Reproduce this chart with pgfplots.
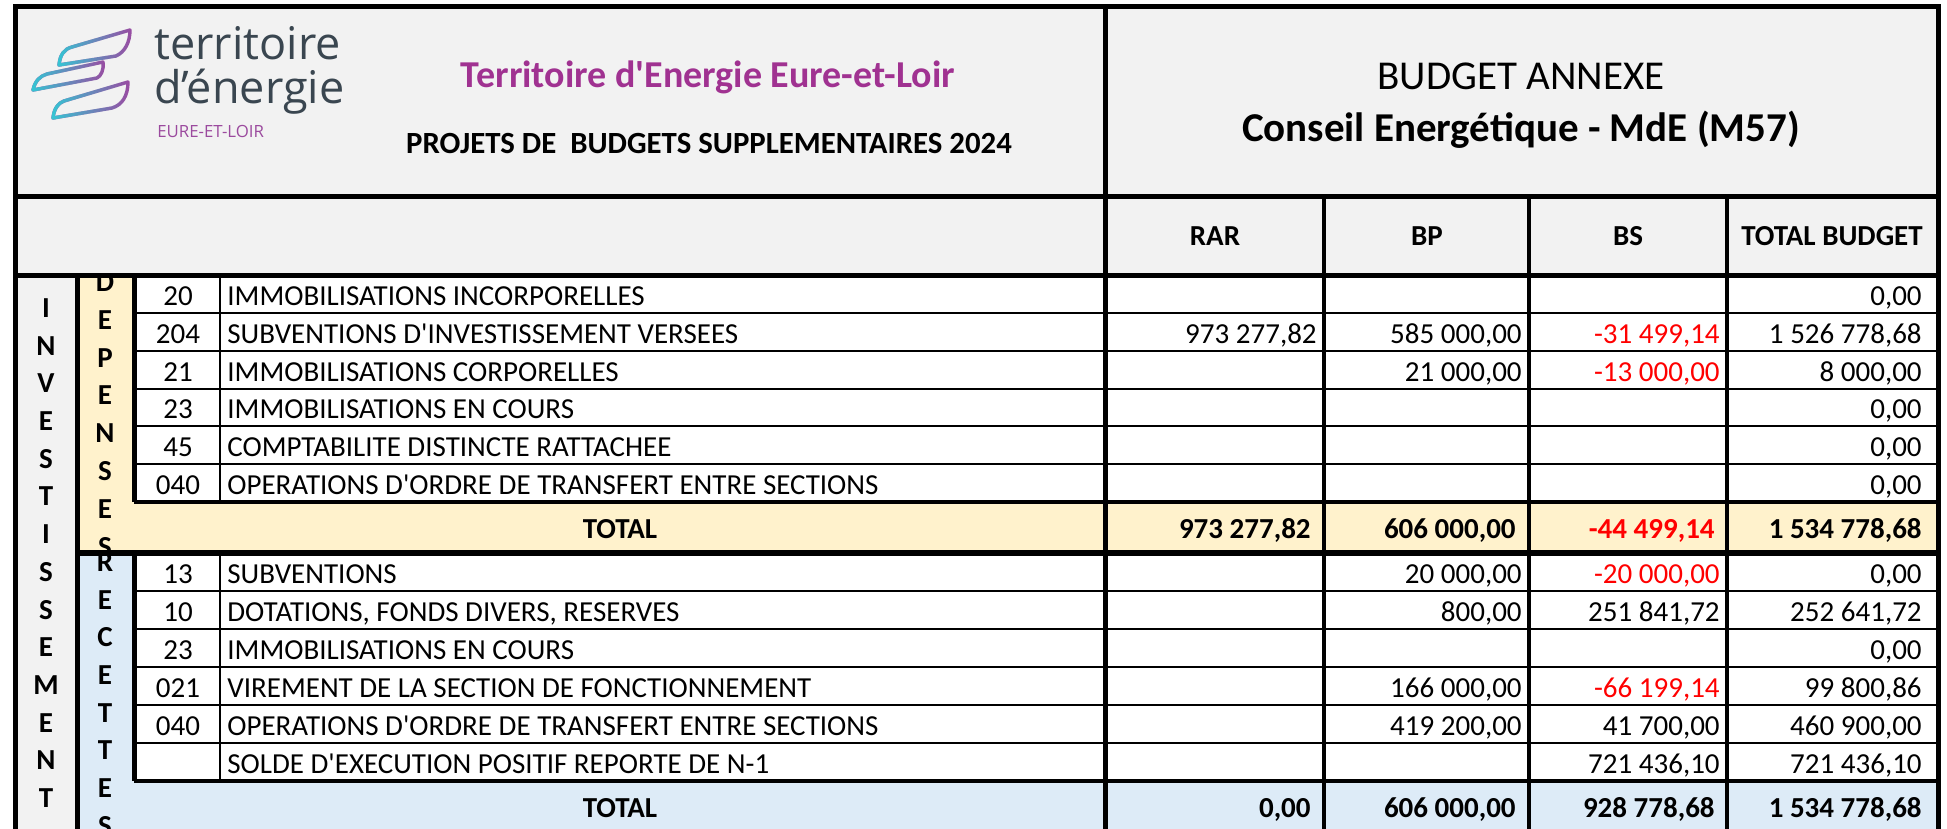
\documentclass[border=0pt]{standalone}
\usepackage{pgfplots}
\pgfplotsset{compat=1.18}
\usetikzlibrary{fadings}
\usepackage{fontspec}
\setmainfont{Carlito}
\newfontfamily\logofont{Open Sans}
\definecolor{hdrgray}{HTML}{F2F2F2}
\definecolor{depyel}{HTML}{FFF2CC}
\definecolor{recblue}{HTML}{DDEBF7}
\definecolor{titlepurple}{RGB}{160,50,145}
\definecolor{logodark}{HTML}{3A4650}
\definecolor{logopurple}{HTML}{9B4A9E}
\definecolor{leafcyan}{HTML}{35C6D4}
\definecolor{leafpurple}{HTML}{9A4CA2}
\definecolor{negred}{HTML}{FF0000}
\newcommand\q{\textquotesingle}
\newcommand\tf{\fontsize{14.5}{17}\selectfont}
\newcommand\nr[3]{\node[anchor=base east,inner sep=0pt,font=\tf] at (#1,#2) {#3};}
\newcommand\nrr[3]{\node[anchor=base east,inner sep=0pt,font=\tf,text=negred] at (#1,#2) {#3};}
\newcommand\nb[3]{\node[anchor=base east,inner sep=0pt,font=\tf\bfseries] at (#1,#2) {#3};}
\newcommand\nbr[3]{\node[anchor=base east,inner sep=0pt,font=\tf\bfseries,text=negred] at (#1,#2) {#3};}
\newcommand\lab[3]{\node[anchor=base,inner sep=0pt,font=\tf] at (178,#1) {#2};
  \node[anchor=base west,inner sep=0pt,font=\tf] at (227,#1) {#3};}
\newcommand\vl[3]{\node[anchor=center,inner sep=0pt,font=\tf\bfseries] at (#1,#2) {#3};}
\newcommand\hl[1]{\draw[line width=1.25pt] (134,#1) -- (1938,#1);}
\newcommand\vln[1]{\draw[line width=1.75pt] (#1,196) -- (#1,840);}
\begin{document}
\begin{tikzpicture}
\begin{axis}[scale only axis, width=973.5pt, height=414.5pt,
  xmin=0, xmax=1947, ymin=0, ymax=829, y dir=reverse,
  axis lines=none, ticks=none, clip=true]
% backgrounds
\fill[white] (0,0) rectangle (1947,829);
\fill[hdrgray] (15,7) rectangle (1938,275);
\fill[hdrgray] (15,275) rectangle (77,840);
\fill[depyel] (77,275) rectangle (134,502);
\fill[depyel] (77,502) rectangle (1938,553);
\fill[recblue] (77,553) rectangle (134,781);
\fill[recblue] (77,781) rectangle (1938,840);
\fill[white] (134,275) rectangle (1938,502);
\fill[white] (134,553) rectangle (1938,781);
% logo leaves
\draw[leafpurple, line width=1.7pt, line join=round] (59,65) .. controls (60,55) and (64,49) .. (72,47) -- (130,30) .. controls (130,42) and (125,52) .. (116,56) -- cycle;
\draw[leafcyan, line width=1.7pt, line join=round, path fading=east] (59,65) .. controls (60,55) and (64,49) .. (72,47) -- (130,30) .. controls (130,42) and (125,52) .. (116,56) -- cycle;
\draw[leafpurple, line width=1.7pt, line join=round] (33,90) .. controls (35,81) and (40,76) .. (47,74) -- (103,62) .. controls (104,70) and (101,76) .. (97,78) -- cycle;
\draw[leafcyan, line width=1.7pt, line join=round, path fading=east] (33,90) .. controls (35,81) and (40,76) .. (47,74) -- (103,62) .. controls (104,70) and (101,76) .. (97,78) -- cycle;
\draw[leafpurple, line width=1.7pt, line join=round] (53,118) .. controls (54,109) and (58,103) .. (64,101) -- (128,82) .. controls (128,96) and (122,105) .. (112,108) -- cycle;
\draw[leafcyan, line width=1.7pt, line join=round, path fading=east] (53,118) .. controls (54,109) and (58,103) .. (64,101) -- (128,82) .. controls (128,96) and (122,105) .. (112,108) -- cycle;
% logo text
\node[anchor=base west,inner sep=0pt,font=\logofont\fontsize{22.5}{26}\selectfont,text=logodark] at (154,60) {territoire};
\node[anchor=base west,inner sep=0pt,font=\logofont\fontsize{22.5}{26}\selectfont,text=logodark] at (154,104) {d’énergie};
\node[anchor=base west,inner sep=0pt,font=\logofont\fontsize{8.4}{10}\selectfont,text=logopurple] at (157,138) {EURE-ET-LOIR};
% header titles
\node[anchor=base,inner sep=0pt,font=\fontsize{19}{22}\selectfont\bfseries,text=titlepurple] at (708,88) {Territoire d\q Energie Eure-et-Loir};
\node[anchor=base,inner sep=0pt,font=\fontsize{15.4}{18}\selectfont\bfseries] at (709,153) {PROJETS DE\ \ BUDGETS SUPPLEMENTAIRES 2024};
\node[anchor=base,inner sep=0pt,font=\fontsize{20.5}{24}\selectfont] at (1521,90) {BUDGET ANNEXE};
\node[anchor=base,inner sep=0pt,font=\fontsize{20.5}{24}\selectfont\bfseries] at (1521,141) {Conseil Energétique - MdE (M57)};
% column headers
\node[anchor=base,inner sep=0pt,font=\tf\bfseries] at (1215,245) {RAR};
\node[anchor=base,inner sep=0pt,font=\tf\bfseries] at (1427,245) {BP};
\node[anchor=base,inner sep=0pt,font=\tf\bfseries] at (1628,245) {BS};
\node[anchor=base,inner sep=0pt,font=\tf\bfseries] at (1832,245) {TOTAL BUDGET};
% vertical letters
\vl{46}{308}{I}\vl{46}{346}{N}\vl{46}{383}{V}\vl{46}{421}{E}\vl{46}{459}{S}\vl{46}{496}{T}\vl{46}{534}{I}
\vl{46}{572}{S}\vl{46}{610}{S}\vl{46}{647}{E}\vl{46}{685}{M}\vl{46}{723}{E}\vl{46}{760}{N}\vl{46}{798}{T}
\begin{scope}
\clip (77,276) rectangle (134,553);
\vl{105}{282}{D}\vl{105}{320}{E}\vl{105}{358}{P}\vl{105}{395}{E}\vl{105}{433}{N}\vl{105}{471}{S}\vl{105}{509}{E}\vl{105}{547}{S}
\end{scope}
\begin{scope}
\clip (77,553) rectangle (134,840);
\vl{105}{562}{R}\vl{105}{600}{E}\vl{105}{637}{C}\vl{105}{675}{E}\vl{105}{713}{T}\vl{105}{750}{T}\vl{105}{788}{E}\vl{105}{826}{S}
\end{scope}
% DEPENSES rows
\lab{305}{20}{IMMOBILISATIONS INCORPORELLES}
\nr{1922}{305}{0,00}
\lab{343}{204}{SUBVENTIONS D\q INVESTISSEMENT VERSEES}
\nr{1317}{343}{973 277,82}\nr{1522}{343}{585 000,00}\nrr{1720}{343}{-31 499,14}\nr{1922}{343}{1 526 778,68}
\lab{381}{21}{IMMOBILISATIONS CORPORELLES}
\nr{1522}{381}{21 000,00}\nrr{1720}{381}{-13 000,00}\nr{1922}{381}{8 000,00}
\lab{418}{23}{IMMOBILISATIONS EN COURS}
\nr{1922}{418}{0,00}
\lab{456}{45}{COMPTABILITE DISTINCTE RATTACHEE}
\nr{1922}{456}{0,00}
\lab{494}{040}{OPERATIONS D\q ORDRE DE TRANSFERT ENTRE SECTIONS}
\nr{1922}{494}{0,00}
% DEPENSES total
\node[anchor=base,inner sep=0pt,font=\tf\bfseries] at (620,538) {TOTAL};
\nb{1311}{538}{973 277,82}\nb{1516}{538}{606 000,00}\nbr{1715}{538}{-44 499,14}\nb{1922}{538}{1 534 778,68}
% RECETTES rows
\lab{583}{13}{SUBVENTIONS}
\nr{1522}{583}{20 000,00}\nrr{1720}{583}{-20 000,00}\nr{1922}{583}{0,00}
\lab{621}{10}{DOTATIONS, FONDS DIVERS, RESERVES}
\nr{1522}{621}{800,00}\nr{1720}{621}{251 841,72}\nr{1922}{621}{252 641,72}
\lab{659}{23}{IMMOBILISATIONS EN COURS}
\nr{1922}{659}{0,00}
\lab{697}{021}{VIREMENT DE LA SECTION DE FONCTIONNEMENT}
\nr{1522}{697}{166 000,00}\nrr{1720}{697}{-66 199,14}\nr{1922}{697}{99 800,86}
\lab{735}{040}{OPERATIONS D\q ORDRE DE TRANSFERT ENTRE SECTIONS}
\nr{1522}{735}{419 200,00}\nr{1720}{735}{41 700,00}\nr{1922}{735}{460 900,00}
\lab{773}{}{SOLDE D\q EXECUTION POSITIF REPORTE DE N-1}
\nr{1720}{773}{721 436,10}\nr{1922}{773}{721 436,10}
% RECETTES total
\node[anchor=base,inner sep=0pt,font=\tf\bfseries] at (620,817) {TOTAL};
\nb{1311}{817}{0,00}\nb{1516}{817}{606 000,00}\nb{1715}{817}{928 778,68}\nb{1922}{817}{1 534 778,68}
% grid lines
\hl{313}\hl{351}\hl{389}\hl{426}\hl{464}
\hl{591}\hl{629}\hl{667}\hl{705}\hl{743}
\draw[line width=1.0pt] (220,275) -- (220,502);
\draw[line width=1.0pt] (220,553) -- (220,781);
\draw[line width=2pt] (134,502) -- (1938,502);
\draw[line width=2pt] (134,781) -- (1938,781);
\draw[line width=3pt] (77,553) -- (1938,553);
\vln{1324}\vln{1529}\vln{1727}
\draw[line width=2.5pt] (134,275) -- (134,502);
\draw[line width=2.5pt] (134,553) -- (134,781);
\draw[line width=2.5pt] (77,275) -- (77,840);
\draw[line width=2.5pt] (1105,7) -- (1105,840);
\draw[line width=2.5pt] (15,196) -- (1938,196);
\draw[line width=2.5pt] (15,275) -- (1938,275);
\draw[line width=2.5pt, line cap=rect] (15,840) -- (15,7) -- (1938,7) -- (1938,840);
\end{axis}
\pgfresetboundingbox
\useasboundingbox (current axis.south west) rectangle (current axis.north east);
\end{tikzpicture}
\end{document}
